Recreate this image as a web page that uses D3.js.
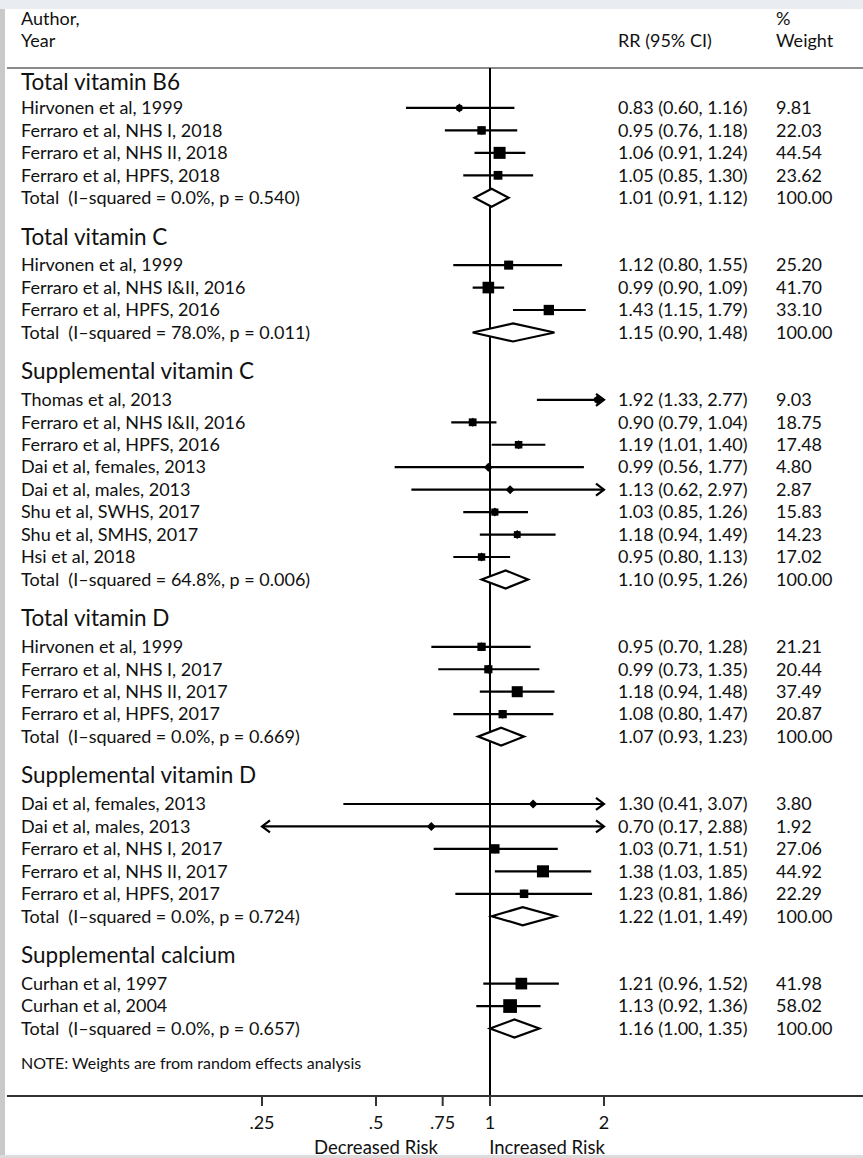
<!DOCTYPE html>
<html>
<head>
<meta charset="utf-8">
<script src="https://cdn.jsdelivr.net/npm/d3@7"></script>
<style>
  html, body { margin: 0; padding: 0; background: #fff; }
  svg { display: block; }
  svg text { white-space: pre; }
</style>
</head>
<body>
<div id="chart"></div>
<script>
// subgroups, in plot order
const GROUPS = [
  "Total vitamin B6", "Total vitamin C", "Supplemental vitamin C",
  "Total vitamin D", "Supplemental vitamin D", "Supplemental calcium",
];

// individual studies: group index, label, RR, lower, upper, % weight
const STUDY_GROUP = [0, 0, 0, 0, 1, 1, 1, 2, 2, 2, 2, 2, 2, 2, 2, 3, 3, 3, 3, 4, 4, 4, 4, 4, 5, 5];
const STUDY_LABEL = [
  "Hirvonen et al, 1999", "Ferraro et al, NHS I, 2018", "Ferraro et al, NHS II, 2018", "Ferraro et al, HPFS, 2018",
  "Hirvonen et al, 1999", "Ferraro et al, NHS I&II, 2016", "Ferraro et al, HPFS, 2016",
  "Thomas et al, 2013", "Ferraro et al, NHS I&II, 2016", "Ferraro et al, HPFS, 2016", "Dai et al, females, 2013",
  "Dai et al, males, 2013", "Shu et al, SWHS, 2017", "Shu et al, SMHS, 2017", "Hsi et al, 2018",
  "Hirvonen et al, 1999", "Ferraro et al, NHS I, 2017", "Ferraro et al, NHS II, 2017", "Ferraro et al, HPFS, 2017",
  "Dai et al, females, 2013", "Dai et al, males, 2013", "Ferraro et al, NHS I, 2017", "Ferraro et al, NHS II, 2017",
  "Ferraro et al, HPFS, 2017",
  "Curhan et al, 1997", "Curhan et al, 2004",
];
const STUDY_RR = [0.83, 0.95, 1.06, 1.05, 1.12, 0.99, 1.43, 1.92, 0.90, 1.19, 0.99, 1.13, 1.03, 1.18, 0.95,
  0.95, 0.99, 1.18, 1.08, 1.30, 0.70, 1.03, 1.38, 1.23, 1.21, 1.13];
const STUDY_LO = [0.60, 0.76, 0.91, 0.85, 0.80, 0.90, 1.15, 1.33, 0.79, 1.01, 0.56, 0.62, 0.85, 0.94, 0.80,
  0.70, 0.73, 0.94, 0.80, 0.41, 0.17, 0.71, 1.03, 0.81, 0.96, 0.92];
const STUDY_HI = [1.16, 1.18, 1.24, 1.30, 1.55, 1.09, 1.79, 2.77, 1.04, 1.40, 1.77, 2.97, 1.26, 1.49, 1.13,
  1.28, 1.35, 1.48, 1.47, 3.07, 2.88, 1.51, 1.85, 1.86, 1.52, 1.36];
const STUDY_WT = [9.81, 22.03, 44.54, 23.62, 25.20, 41.70, 33.10, 9.03, 18.75, 17.48, 4.80, 2.87, 15.83, 14.23, 17.02,
  21.21, 20.44, 37.49, 20.87, 3.80, 1.92, 27.06, 44.92, 22.29, 41.98, 58.02];

// pooled (random effects) estimates per subgroup
const TOTAL_RR = [1.01, 1.15, 1.10, 1.07, 1.22, 1.16];
const TOTAL_LO = [0.91, 0.90, 0.95, 0.93, 1.01, 1.00];
const TOTAL_HI = [1.12, 1.48, 1.26, 1.23, 1.49, 1.35];
const TOTAL_I2 = [0.0, 78.0, 64.8, 0.0, 0.0, 0.0];
const TOTAL_P = [0.540, 0.011, 0.006, 0.669, 0.724, 0.657];

const TICKS = [0.25, 0.5, 0.75, 1, 2];
const TICK_LABELS = [".25", ".5", ".75", "1", "2"];
const X_DOMAIN = [0.25, 2];

const W = 863, H = 1158;
const FONT = "Lato, 'Open Sans', sans-serif";
const INK = "#111";

// build row list: header, studies, total, blank
const rows = [];
GROUPS.forEach((name, gi) => {
  rows.push({ type: "head", g: gi, label: name });
  STUDY_GROUP.forEach((g, i) => {
    if (g !== gi) return;
    rows.push({ type: "study", g, label: STUDY_LABEL[i], rr: STUDY_RR[i], lo: STUDY_LO[i], hi: STUDY_HI[i], wt: STUDY_WT[i] });
  });
  rows.push({
    type: "total", g: gi,
    label: `Total  (I\u2013squared = ${TOTAL_I2[gi].toFixed(1)}%, p = ${TOTAL_P[gi].toFixed(3)})`,
    rr: TOTAL_RR[gi], lo: TOTAL_LO[gi], hi: TOTAL_HI[gi], wt: 100,
  });
  if (gi < GROUPS.length - 1) rows.push({ type: "blank" });
});
rows.forEach((r, i) => r.i = i);
const lastRow = rows.length - 1;

const svg = d3.select("#chart").append("svg").attr("width", W).attr("height", H)
  .attr("font-family", FONT).attr("fill", INK);

// page frame (screenshot borders)
svg.append("rect").attr("x", 0).attr("y", 0).attr("width", W).attr("height", 9).attr("fill", "#e9ecf1");
svg.append("rect").attr("x", 0).attr("y", 9).attr("width", 5).attr("height", 1146).attr("fill", "#c9c9c9");
svg.append("rect").attr("x", 0).attr("y", 1155).attr("width", W).attr("height", 3).attr("fill", "#dcdcdc");

const x = d3.scaleLog().domain(X_DOMAIN).range([262, 604]);
const y = d3.scaleLinear().domain([0, lastRow]).range([85.5, 1028.5]);
const fmt = d3.format(".2f");

const colLabel = 21, colRR = 618, colWt = 776;
const axisY = 1096, topLine = 68;

// column headers
const hdr = svg.append("g").attr("font-size", 18);
hdr.append("text").attr("x", colLabel).attr("y", 19).attr("dy", "0.35em").text("Author,");
hdr.append("text").attr("x", colLabel).attr("y", 41).attr("dy", "0.35em").text("Year");
hdr.append("text").attr("x", colRR).attr("y", 41).attr("dy", "0.35em").text("RR (95% CI)");
hdr.append("text").attr("x", colWt).attr("y", 19).attr("dy", "0.35em").text("%");
hdr.append("text").attr("x", colWt).attr("y", 41).attr("dy", "0.35em").text("Weight");

svg.append("line").attr("x1", 7).attr("x2", W).attr("y1", topLine).attr("y2", topLine)
  .attr("stroke", "#8a8a8a").attr("stroke-width", 2);

// null line at RR = 1
svg.append("line").attr("x1", x(1)).attr("x2", x(1)).attr("y1", topLine).attr("y2", axisY + 10)
  .attr("stroke", "#000").attr("stroke-width", 2);

// text columns
const txt = svg.append("g");
rows.filter(r => r.type !== "blank").forEach(r => {
  const yy = y(r.i) + (r.type === "head" ? (r.g > 0 ? -6 : -3) : 0);
  txt.append("text").attr("x", colLabel).attr("y", yy).attr("dy", "0.35em")
    .attr("font-size", r.type === "head" ? 22.5 : 18).text(r.label);
  if (r.type === "head") return;
  txt.append("text").attr("x", colRR).attr("y", yy).attr("dy", "0.35em").attr("font-size", 18)
    .text(`${fmt(r.rr)} (${fmt(r.lo)}, ${fmt(r.hi)})`);
  txt.append("text").attr("x", colWt).attr("y", yy).attr("dy", "0.35em").attr("font-size", 18)
    .text(fmt(r.wt));
});

// confidence intervals, clipped to the axis with arrows
const marks = svg.append("g").attr("stroke", "#000").attr("stroke-width", 2.2);
const [xmin, xmax] = X_DOMAIN;
rows.filter(r => r.type === "study").forEach(r => {
  const yy = y(r.i);
  const x1 = x(Math.max(r.lo, xmin)), x2 = x(Math.min(r.hi, xmax));
  marks.append("line").attr("x1", x1).attr("x2", x2).attr("y1", yy).attr("y2", yy);
  if (r.hi > xmax) {
    marks.append("path").attr("fill", "none")
      .attr("d", `M${x2 - 8},${yy - 6}L${x2},${yy}L${x2 - 8},${yy + 6}`);
  }
  if (r.lo < xmin) {
    marks.append("path").attr("fill", "none")
      .attr("d", `M${x1 + 8},${yy - 6}L${x1},${yy}L${x1 + 8},${yy + 6}`);
  }
  // weight box (area ~ weight) and point estimate
  const s = 1.8 * Math.sqrt(r.wt);
  marks.append("rect").attr("x", x(r.rr) - s / 2).attr("y", yy - s / 2).attr("width", s).attr("height", s)
    .attr("fill", "#000").attr("stroke", "none");
  marks.append("path").attr("fill", "#000").attr("stroke", "none")
    .attr("d", `M${x(r.rr)},${yy - 4.5}L${x(r.rr) + 4.5},${yy}L${x(r.rr)},${yy + 4.5}L${x(r.rr) - 4.5},${yy}Z`);
});

// pooled diamonds
rows.filter(r => r.type === "total").forEach(r => {
  const yy = y(r.i);
  marks.append("path").attr("fill", "#fff")
    .attr("d", `M${x(r.lo)},${yy}L${x(r.rr)},${yy - 9}L${x(r.hi)},${yy}L${x(r.rr)},${yy + 9}Z`);
});

// note
svg.append("text").attr("x", colLabel).attr("y", 1063).attr("dy", "0.35em").attr("font-size", 16)
  .text("NOTE: Weights are from random effects analysis");

// x axis
const ax = svg.append("g").attr("transform", `translate(0,${axisY})`);
ax.append("line").attr("x1", 7).attr("x2", W).attr("stroke", "#333").attr("stroke-width", 2);
ax.selectAll(".tk").data(TICKS).join("line")
  .attr("x1", d => x(d)).attr("x2", d => x(d)).attr("y1", 0).attr("y2", 10)
  .attr("stroke", "#333").attr("stroke-width", 2);
ax.selectAll(".tl").data(TICKS).join("text")
  .attr("x", d => x(d)).attr("y", 27).attr("dy", "0.35em").attr("text-anchor", "middle")
  .attr("font-size", 18).text((d, i) => TICK_LABELS[i]);

// favours labels, centred halfway (log) between the null and each axis end
ax.append("text").attr("x", x(Math.sqrt(xmin))).attr("y", 52).attr("dy", "0.35em")
  .attr("text-anchor", "middle").attr("font-size", 18.5).text("Decreased Risk");
ax.append("text").attr("x", x(Math.sqrt(xmax))).attr("y", 52).attr("dy", "0.35em")
  .attr("text-anchor", "middle").attr("font-size", 18.5).text("Increased Risk");
</script>
</body>
</html>
